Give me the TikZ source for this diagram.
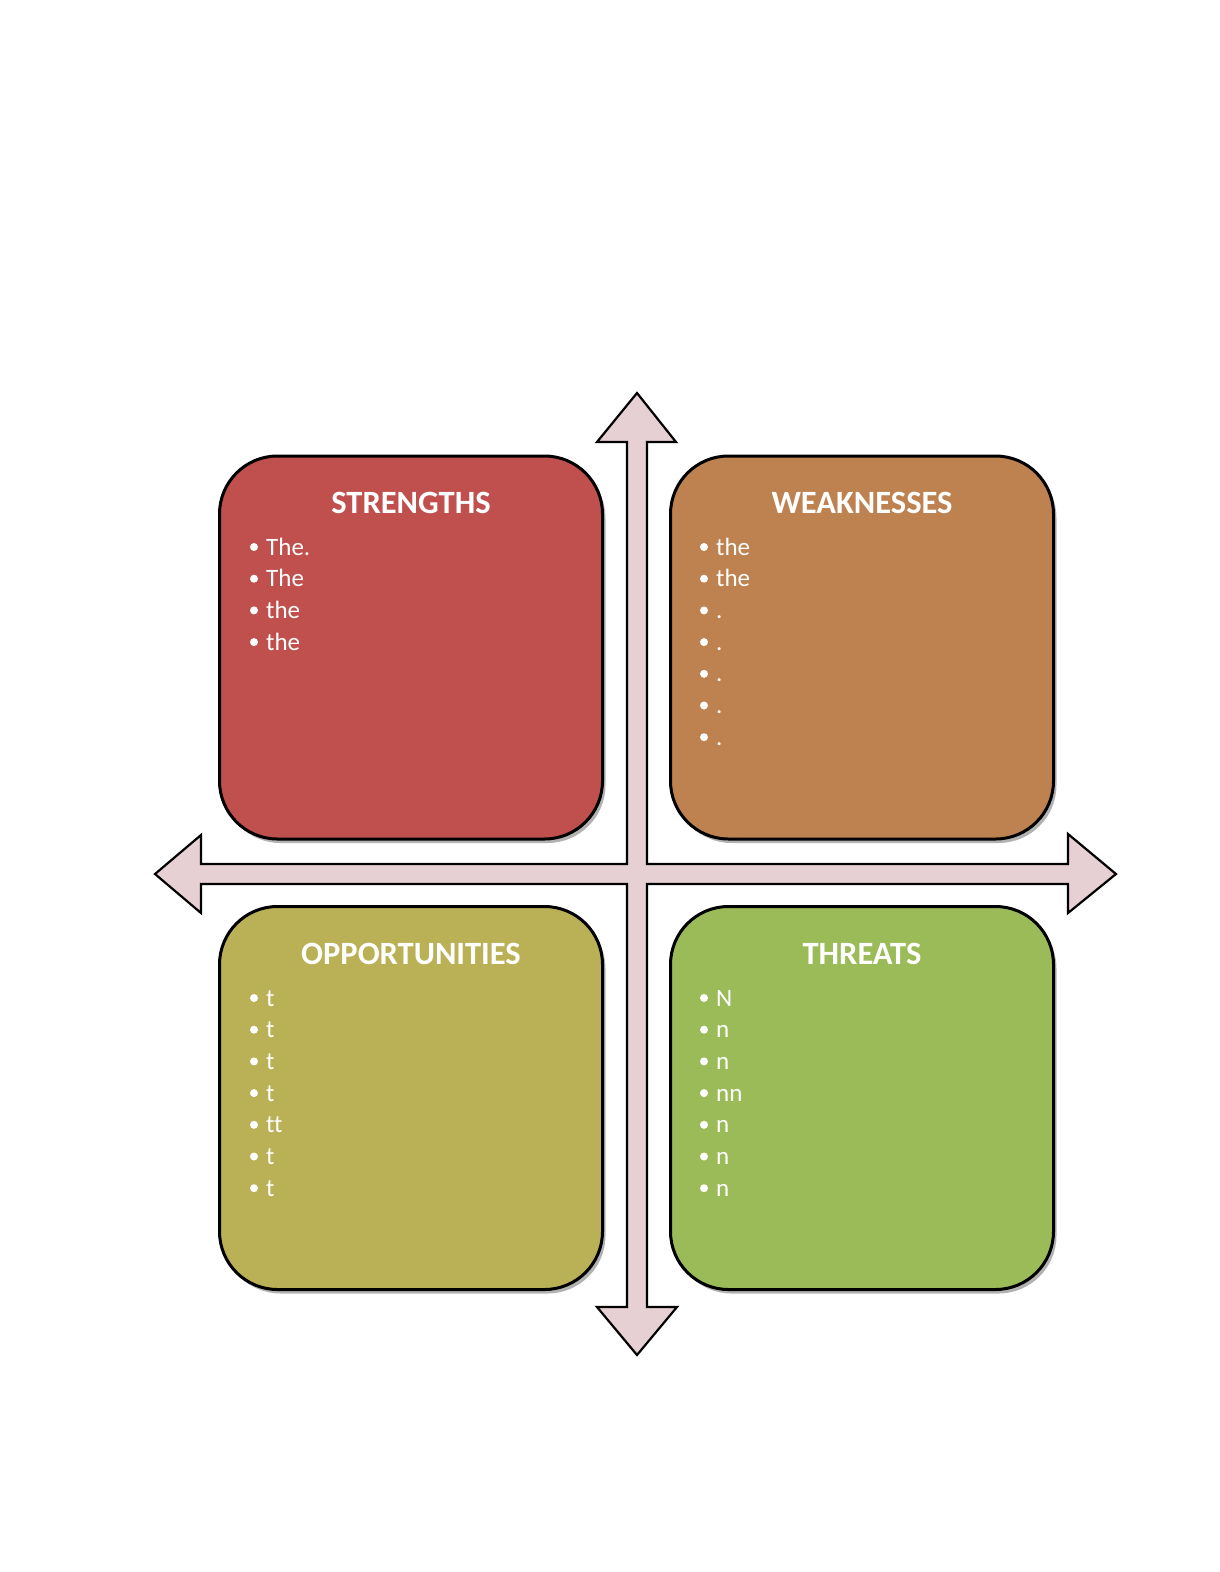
\documentclass[tikz,border=0pt]{standalone}
\usepackage{fontspec}
\setmainfont[Ligatures=NoCommon]{Carlito}
\usetikzlibrary{shadows}
\definecolor{cstr}{HTML}{C0504D}
\definecolor{cweak}{HTML}{BE8250}
\definecolor{copp}{HTML}{BAB055}
\definecolor{cthr}{HTML}{9BBB59}
\definecolor{carrow}{HTML}{E6D0D3}
\tikzset{
  quad/.style={draw=black, line width=2.2pt, line join=miter, fill=carrow},
  box/.style={draw=black, line width=3pt, rounded corners=58pt, minimum width=383pt, minimum height=383pt, inner sep=0pt,
    drop shadow={shadow xshift=3pt, shadow yshift=-4pt, opacity=0.3, fill=black}},
  title/.style={anchor=base, text=white, font=\bfseries\fontsize{32.5}{38}\selectfont, inner sep=0pt},
  item/.style={anchor=base west, text=white, font=\fontsize{25}{30}\selectfont, inner sep=0pt}
}
\begin{document}
\begin{tikzpicture}[x=1pt,y=-1pt]
\useasboundingbox (0,0) rectangle (1220,1572);
% four-headed arrow
\draw[quad] (637,393) -- (676,442) -- (647,442) -- (647,864) -- (1068,864) -- (1068,834) -- (1116,874)
  -- (1068,913) -- (1068,884) -- (647,884) -- (647,1307) -- (677,1307) -- (637,1355) -- (597,1307)
  -- (627,1307) -- (627,884) -- (201,884) -- (201,913) -- (155,874) -- (201,835) -- (201,864)
  -- (627,864) -- (627,442) -- (597,442) -- cycle;
% boxes
\node[box, fill=cstr]  (S) at (411,647.5) {};
\node[box, fill=cweak] (W) at (862,647.5) {};
\node[box, fill=copp]  (O) at (411,1098) {};
\node[box, fill=cthr]  (T) at (862,1098) {};
% titles
\node[title] (St) at (411,513) {STRENGTHS};
\node[title] (Wt) at (862,513) {WEAKNESSES};
\node[title] (Ot) at (411,964) {OPPORTUNITIES};
\node[title] (Tt) at (862,964) {THREATS};
% items
\foreach \t [count=\i from 0] in {The., The, the, the} {
  \node[item] (s\i) at (266,555+31.7*\i) {\t};
  \fill[white] (254,547+31.7*\i) circle (4);
}
\foreach \t [count=\i from 0] in {the, the, ., ., ., ., .} {
  \node[item] (w\i) at (716,555+31.7*\i) {\t};
  \fill[white] (704,547+31.7*\i) circle (4);
}
\foreach \t [count=\i from 0] in {t, t, t, t, tt, t, t} {
  \node[item] (o\i) at (266,1006+31.7*\i) {\t};
  \fill[white] (254,998+31.7*\i) circle (4);
}
\foreach \t [count=\i from 0] in {N, n, n, nn, n, n, n} {
  \node[item] (t\i) at (716,1006+31.7*\i) {\t};
  \fill[white] (704,998+31.7*\i) circle (4);
}
\end{tikzpicture}
\end{document}
